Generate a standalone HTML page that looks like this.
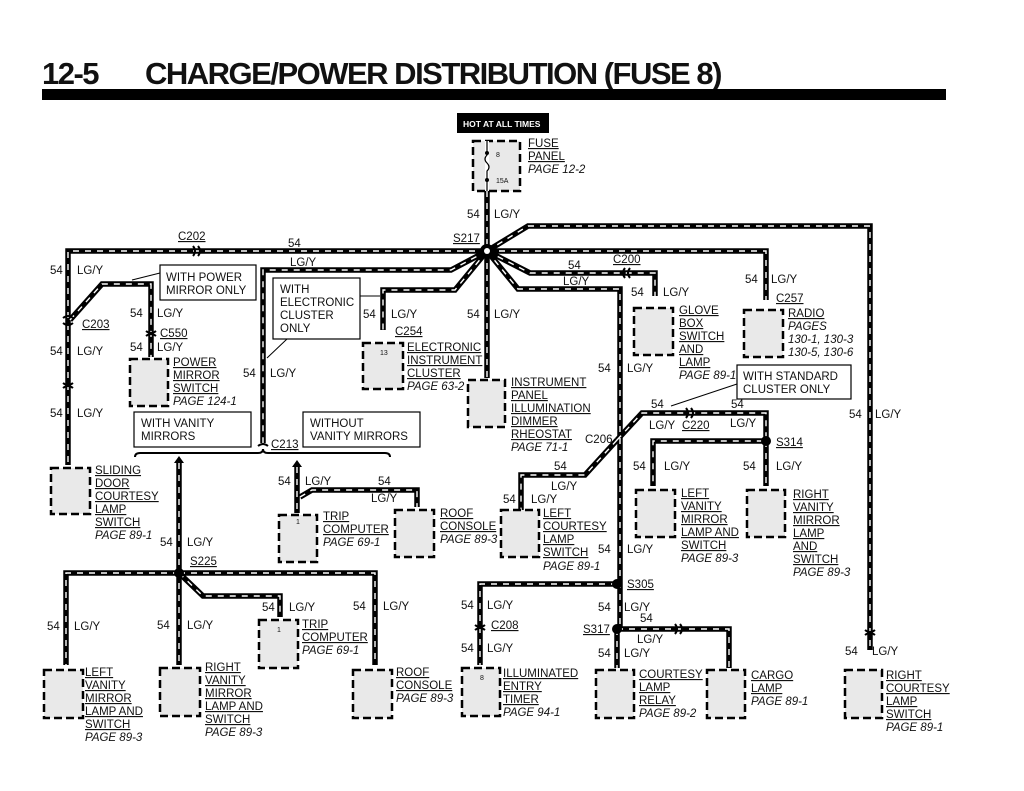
<!DOCTYPE html>
<html><head><meta charset="utf-8"><style>
html,body{margin:0;padding:0;background:#fff}
svg{display:block}
text{font-family:"Liberation Sans",Arial,sans-serif;font-size:11.5px;fill:#111}
.u{text-decoration:underline}
.i{font-style:italic}
.bk{stroke:#000;stroke-width:5.5;fill:none;stroke-linejoin:miter}
.wh{stroke:#fff;stroke-width:1.4;fill:none;stroke-dasharray:6 6}
.box{fill:#e9e9e9;stroke:#000;stroke-width:2.5;stroke-dasharray:8 4}
.lb{fill:#fff;stroke:#000;stroke-width:1.2}
.cn{stroke:#000;stroke-width:2;fill:none}
</style></head><body>
<svg width="1024" height="791" viewBox="0 0 1024 791" xmlns="http://www.w3.org/2000/svg">
<text x="42" y="84" style="font-size:31px;font-weight:bold;letter-spacing:-1.5px">12-5</text>
<text x="145" y="84" style="font-size:31px;font-weight:bold;letter-spacing:-1.5px">CHARGE/POWER DISTRIBUTION (FUSE 8)</text>
<rect x="42" y="89" width="904" height="11" fill="#000"/>

<rect x="457" y="113" width="92" height="20" fill="#000"/>
<text x="463" y="127" style="font-size:8.5px;fill:#fff;font-weight:bold">HOT AT ALL TIMES</text>

<defs>
<g id="W">
<path d="M487 191 V251"/>
<path d="M487 251 H68 V465"/>
<path d="M70 320 L102 284 H151 V357"/>
<path d="M487 251 L451 270 H263 V443"/>
<path d="M487 251 L455 290 H383 V330"/>
<path d="M487 251 V378"/>
<path d="M487 251 L528 226 H870 V650"/>
<path d="M487 251 H766 V300"/>
<path d="M487 251 L530 273 H655 V296"/>
<path d="M487 251 L518 289 H620 V629"/>
<path d="M617 440 L642 413 H766 V441 H653 V486"/>
<path d="M766 441 V486"/>
<path d="M617 440 L585 475 H521 V510"/>
<path d="M617 584 H480 V665"/>
<path d="M617 629 H729 V668"/>
<path d="M617 629 V668"/>
<path d="M179 463 V665"/>
<path d="M179 573 H66 V665"/>
<path d="M179 573 H375 V665"/>
<path d="M179 573 L203 596 H280 V617"/>
<path d="M297 467 V513"/>
<path d="M300 497 L312 490 H417 V507"/>
</g>
</defs>
<use href="#W" class="bk"/>
<use href="#W" class="wh"/>

<circle cx="487" cy="251" r="7" fill="#000"/><circle cx="487" cy="251" r="3" fill="#fff"/>
<circle cx="179" cy="573" r="5" fill="#000"/>
<circle cx="617" cy="584" r="5" fill="#000"/>
<circle cx="617" cy="629" r="5" fill="#000"/>
<circle cx="766" cy="441" r="5" fill="#000"/>
<g class="cn">
<path d="M193 246 q4 5 0 10 M198 246 q4 5 0 10"/>
<path d="M63 318 q5 -4 10 0 M63 323 q5 4 10 0"/>
<path d="M63 383 q5 4 10 0 M63 388 q5 -4 10 0"/>
<path d="M146 331 q5 4 10 0 M146 336 q5 -4 10 0"/>
<path d="M630 268 q-4 5 0 10 M625 268 q-4 5 0 10"/>
<path d="M686 408 q4 5 0 10 M691 408 q4 5 0 10"/>
<path d="M475 625 q5 4 10 0 M475 630 q5 -4 10 0"/>
<path d="M675 624 q4 5 0 10 M680 624 q4 5 0 10"/>
<path d="M865 630 q5 4 10 0 M865 635 q5 -4 10 0"/>
<path d="M258 446 q5 -4 10 0"/>
<path d="M135 457 q0 -4 5 -4 H258 q5 0 5 -4 q0 4 5 4 H385 q5 0 5 4"/>
</g>
<path d="M174 463 L179 456 L184 463Z M292 467 L297 460 L302 467Z" fill="#000"/>

<rect class="box" x="473" y="141" width="47" height="50"/>
<path d="M487 141 V191" stroke="#fff" stroke-width="4"/>
<path d="M487 141 V155 q-4 4 0 8 q4 4 0 8 V191" stroke="#000" stroke-width="1.2" fill="none"/>
<circle cx="487" cy="153" r="2"/><circle cx="487" cy="180" r="2"/>
<text x="496" y="157" style="font-size:7px">8</text><text x="496" y="183" style="font-size:7px">15A</text>
<rect class="box" x="51" y="468" width="39" height="46"/>
<rect class="box" x="130" y="359" width="38" height="47"/>
<rect class="box" x="363" y="343" width="40" height="46"/>
<rect class="box" x="468" y="380" width="37" height="47"/>
<rect class="box" x="634" y="308" width="39" height="47"/>
<rect class="box" x="744" y="310" width="39" height="47"/>
<rect class="box" x="636" y="490" width="39" height="47"/>
<rect class="box" x="747" y="490" width="38" height="47"/>
<rect class="box" x="501" y="510" width="38" height="47"/>
<rect class="box" x="279" y="515" width="38" height="47"/>
<rect class="box" x="395" y="510" width="39" height="47"/>
<rect class="box" x="259" y="620" width="39" height="48"/>
<rect class="box" x="44" y="670" width="39" height="48"/>
<rect class="box" x="160" y="668" width="40" height="48"/>
<rect class="box" x="353" y="670" width="39" height="48"/>
<rect class="box" x="462" y="668" width="38" height="48"/>
<rect class="box" x="596" y="670" width="38" height="48"/>
<rect class="box" x="707" y="670" width="38" height="48"/>
<rect class="box" x="845" y="670" width="37" height="48"/>

<rect class="lb" x="160" y="265" width="96" height="35"/>
<text x="166" y="281">WITH POWER</text><text x="166" y="294">MIRROR ONLY</text>
<path d="M160 273 L132 280" stroke="#000" stroke-width="1"/>
<rect class="lb" x="273" y="278" width="87" height="61"/>
<text x="280" y="293">WITH</text><text x="280" y="306">ELECTRONIC</text><text x="280" y="319">CLUSTER</text><text x="280" y="332">ONLY</text>
<path d="M360 296 H380 M287 339 L267 358" stroke="#000" stroke-width="1"/>
<rect class="lb" x="134" y="412" width="117" height="35"/>
<text x="141" y="427">WITH VANITY</text><text x="141" y="440">MIRRORS</text>
<rect class="lb" x="303" y="412" width="117" height="35"/>
<text x="310" y="427">WITHOUT</text><text x="310" y="440">VANITY MIRRORS</text>
<rect class="lb" x="737" y="365" width="114" height="34"/>
<text x="743" y="380">WITH STANDARD</text><text x="743" y="393">CLUSTER ONLY</text>
<path d="M737 384 L671 406" stroke="#000" stroke-width="1"/>

<g>
<text x="528" y="147" class="u">FUSE</text><text x="528" y="160" class="u">PANEL</text><text x="528" y="173" class="i">PAGE 12-2</text>
<text x="467" y="218">54</text><text x="494" y="218">LG/Y</text>
<text x="453" y="242" class="u">S217</text>
<text x="178" y="240" class="u">C202</text><text x="288" y="247">54</text><text x="290" y="266">LG/Y</text>
<text x="50" y="274">54</text><text x="77" y="274">LG/Y</text>
<text x="82" y="328" class="u">C203</text>
<text x="50" y="355">54</text><text x="77" y="355">LG/Y</text>
<text x="50" y="417">54</text><text x="77" y="417">LG/Y</text>
<text x="130" y="317">54</text><text x="157" y="317">LG/Y</text>
<text x="160" y="337" class="u">C550</text>
<text x="130" y="351">54</text><text x="157" y="351">LG/Y</text>
<text x="173" y="366" class="u">POWER</text><text x="173" y="379" class="u">MIRROR</text><text x="173" y="392" class="u">SWITCH</text><text x="173" y="405" class="i">PAGE 124-1</text>
<text x="243" y="377">54</text><text x="270" y="377">LG/Y</text>
<text x="363" y="318">54</text><text x="391" y="318">LG/Y</text>
<text x="395" y="335" class="u">C254</text>
<text x="380" y="355" style="font-size:7px">13</text>
<text x="407" y="351" class="u">ELECTRONIC</text><text x="407" y="364" class="u">INSTRUMENT</text><text x="407" y="377" class="u">CLUSTER</text><text x="407" y="390" class="i">PAGE 63-2</text>
<text x="467" y="318">54</text><text x="494" y="318">LG/Y</text>
<text x="511" y="386" class="u">INSTRUMENT</text><text x="511" y="399" class="u">PANEL</text><text x="511" y="412" class="u">ILLUMINATION</text><text x="511" y="425" class="u">DIMMER</text><text x="511" y="438" class="u">RHEOSTAT</text><text x="511" y="451" class="i">PAGE 71-1</text>
<text x="568" y="269">54</text><text x="613" y="263" class="u">C200</text><text x="563" y="285">LG/Y</text>
<text x="631" y="296">54</text><text x="663" y="296">LG/Y</text>
<text x="679" y="314" class="u">GLOVE</text><text x="679" y="327" class="u">BOX</text><text x="679" y="340" class="u">SWITCH</text><text x="679" y="353" class="u">AND</text><text x="679" y="366" class="u">LAMP</text><text x="679" y="379" class="i">PAGE 89-1</text>
<text x="745" y="283">54</text><text x="771" y="283">LG/Y</text><text x="776" y="302" class="u">C257</text>
<text x="788" y="317" class="u">RADIO</text><text x="788" y="330" class="i">PAGES</text><text x="788" y="343" class="i">130-1, 130-3</text><text x="788" y="356" class="i">130-5, 130-6</text>
<text x="598" y="372">54</text><text x="627" y="372">LG/Y</text>
<text x="651" y="408">54</text><text x="731" y="408">54</text><text x="649" y="429">LG/Y</text><text x="682" y="429" class="u">C220</text><text x="730" y="427">LG/Y</text>
<text x="585" y="443">C206</text><text x="776" y="446" class="u">S314</text>
<text x="849" y="418">54</text><text x="875" y="418">LG/Y</text>
<text x="554" y="470">54</text><text x="551" y="490">LG/Y</text><text x="503" y="503">54</text><text x="531" y="503">LG/Y</text>
<text x="543" y="517" class="u">LEFT</text><text x="543" y="530" class="u">COURTESY</text><text x="543" y="543" class="u">LAMP</text><text x="543" y="556" class="u">SWITCH</text><text x="543" y="570" class="i">PAGE 89-1</text>
<text x="598" y="553">54</text><text x="627" y="553">LG/Y</text>
<text x="633" y="470">54</text><text x="664" y="470">LG/Y</text>
<text x="681" y="497" class="u">LEFT</text><text x="681" y="510" class="u">VANITY</text><text x="681" y="523" class="u">MIRROR</text><text x="681" y="536" class="u">LAMP AND</text><text x="681" y="549" class="u">SWITCH</text><text x="681" y="562" class="i">PAGE 89-3</text>
<text x="743" y="470">54</text><text x="776" y="470">LG/Y</text>
<text x="793" y="498" class="u">RIGHT</text><text x="793" y="511" class="u">VANITY</text><text x="793" y="524" class="u">MIRROR</text><text x="793" y="537" class="u">LAMP</text><text x="793" y="550" class="u">AND</text><text x="793" y="563" class="u">SWITCH</text><text x="793" y="576" class="i">PAGE 89-3</text>
<text x="627" y="588" class="u">S305</text>
<text x="598" y="611">54</text><text x="624" y="611">LG/Y</text><text x="640" y="622">54</text>
<text x="583" y="633" class="u">S317</text><text x="637" y="643">LG/Y</text>
<text x="598" y="657">54</text><text x="624" y="657">LG/Y</text>
<text x="639" y="678" class="u">COURTESY</text><text x="639" y="691" class="u">LAMP</text><text x="639" y="704" class="u">RELAY</text><text x="639" y="717" class="i">PAGE 89-2</text>
<text x="751" y="679" class="u">CARGO</text><text x="751" y="692" class="u">LAMP</text><text x="751" y="705" class="i">PAGE 89-1</text>
<text x="461" y="609">54</text><text x="487" y="609">LG/Y</text><text x="491" y="629" class="u">C208</text>
<text x="461" y="652">54</text><text x="487" y="652">LG/Y</text>
<text x="480" y="680" style="font-size:7px">8</text>
<text x="503" y="677" class="u">ILLUMINATED</text><text x="503" y="690" class="u">ENTRY</text><text x="503" y="703" class="u">TIMER</text><text x="503" y="716" class="i">PAGE 94-1</text>
<text x="845" y="655">54</text><text x="872" y="655">LG/Y</text>
<text x="886" y="679" class="u">RIGHT</text><text x="886" y="692" class="u">COURTESY</text><text x="886" y="705" class="u">LAMP</text><text x="886" y="718" class="u">SWITCH</text><text x="886" y="731" class="i">PAGE 89-1</text>
<text x="95" y="474" class="u">SLIDING</text><text x="95" y="487" class="u">DOOR</text><text x="95" y="500" class="u">COURTESY</text><text x="95" y="513" class="u">LAMP</text><text x="95" y="526" class="u">SWITCH</text><text x="95" y="539" class="i">PAGE 89-1</text>
<text x="271" y="448" class="u">C213</text>
<text x="278" y="485">54</text><text x="305" y="485">LG/Y</text><text x="378" y="485">54</text><text x="371" y="502">LG/Y</text>
<text x="296" y="524" style="font-size:7px">1</text>
<text x="323" y="520" class="u">TRIP</text><text x="323" y="533" class="u">COMPUTER</text><text x="323" y="546" class="i">PAGE 69-1</text>
<text x="440" y="517" class="u">ROOF</text><text x="440" y="530" class="u">CONSOLE</text><text x="440" y="543" class="i">PAGE 89-3</text>
<text x="160" y="546">54</text><text x="187" y="546">LG/Y</text><text x="190" y="565" class="u">S225</text>
<text x="47" y="630">54</text><text x="74" y="630">LG/Y</text>
<text x="157" y="629">54</text><text x="187" y="629">LG/Y</text>
<text x="262" y="611">54</text><text x="289" y="611">LG/Y</text>
<text x="353" y="610">54</text><text x="383" y="610">LG/Y</text>
<text x="277" y="632" style="font-size:7px">1</text>
<text x="302" y="628" class="u">TRIP</text><text x="302" y="641" class="u">COMPUTER</text><text x="302" y="654" class="i">PAGE 69-1</text>
<text x="85" y="676" class="u">LEFT</text><text x="85" y="689" class="u">VANITY</text><text x="85" y="702" class="u">MIRROR</text><text x="85" y="715" class="u">LAMP AND</text><text x="85" y="728" class="u">SWITCH</text><text x="85" y="741" class="i">PAGE 89-3</text>
<text x="205" y="671" class="u">RIGHT</text><text x="205" y="684" class="u">VANITY</text><text x="205" y="697" class="u">MIRROR</text><text x="205" y="710" class="u">LAMP AND</text><text x="205" y="723" class="u">SWITCH</text><text x="205" y="736" class="i">PAGE 89-3</text>
<text x="396" y="676" class="u">ROOF</text><text x="396" y="689" class="u">CONSOLE</text><text x="396" y="702" class="i">PAGE 89-3</text>
</g>
</svg>
</body></html>
